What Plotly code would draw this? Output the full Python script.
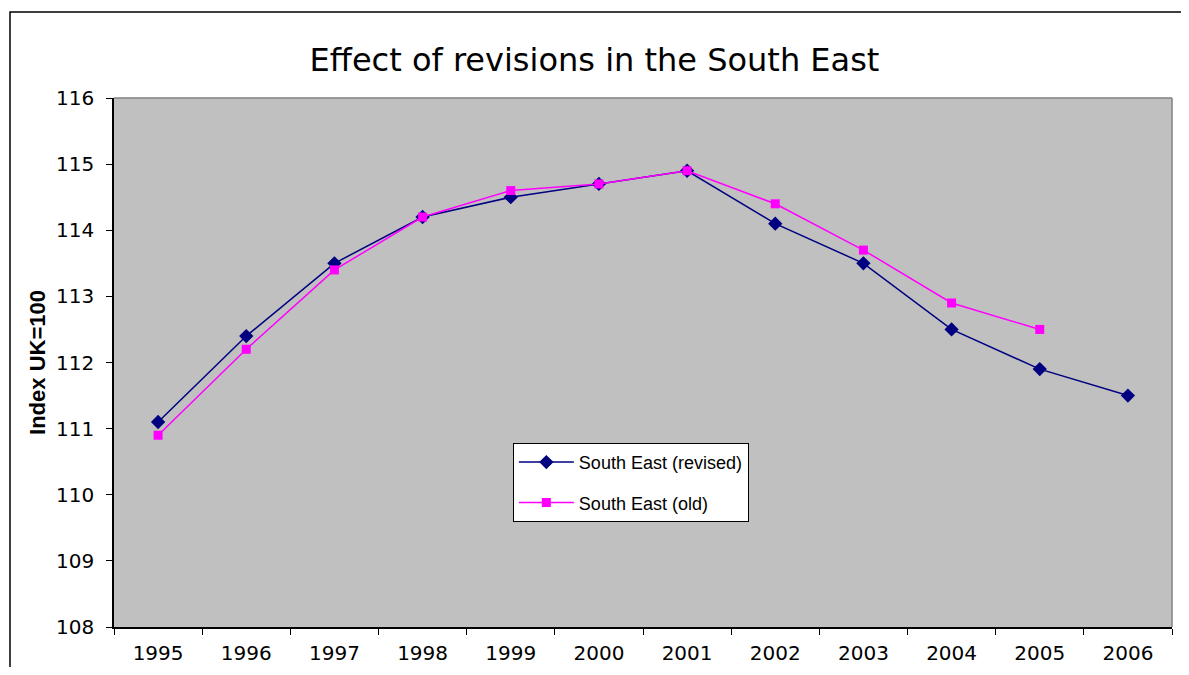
import plotly.graph_objects as go

years = ["1995", "1996", "1997", "1998", "1999", "2000", "2001", "2002", "2003", "2004", "2005", "2006"]
revised = [111.1, 112.4, 113.5, 114.2, 114.5, 114.7, 114.9, 114.1, 113.5, 112.5, 111.9, 111.5]
old_years = years[:11]
old = [110.9, 112.2, 113.4, 114.2, 114.6, 114.7, 114.9, 114.4, 113.7, 112.9, 112.5]

fig = go.Figure()
fig.add_trace(go.Scatter(
    x=years, y=revised, name="South East (revised)", mode="lines+markers",
    legendgroup="rev",
    line=dict(color="#000080", width=1.5),
    marker=dict(symbol="diamond", size=11, color="#000080"),
))
fig.add_trace(go.Scatter(
    x=old_years, y=old, name="South East (old)", mode="lines+markers",
    legendgroup="old",
    line=dict(color="#FF00FF", width=1.5),
    marker=dict(symbol="square", size=9, color="#FF00FF"),
))

fig.update_layout(
    width=1173, height=659,
    margin=dict(l=106, r=9, t=90, b=40),
    paper_bgcolor="white", plot_bgcolor="#C0C0C0",
    title=dict(text="Effect of revisions in the South East", x=0.5, xanchor="center",
               y=0.921, yanchor="middle",
               font=dict(family="DejaVu Sans", size=32, color="black")),
    showlegend=True,
    legend=dict(x=0.377, y=0.348, xanchor="left", yanchor="top",
                bgcolor="white", bordercolor="black", borderwidth=1,
                font=dict(family="Liberation Sans", size=18, color="black"),
                tracegroupgap=14, itemwidth=55),
    xaxis=dict(type="category", tickson="boundaries", ticks="outside", ticklen=6,
               tickcolor="black", showline=True, linecolor="black", linewidth=1.5,
               showgrid=False, mirror=False, ticklabelstandoff=7, automargin=False,
               tickfont=dict(family="DejaVu Sans", size=20, color="black"),
               range=[-0.5, 11.5]),
    yaxis=dict(range=[108, 116], dtick=1, ticks="outside", ticklen=6, tickcolor="black",
               showline=True, linecolor="black", linewidth=1.5, showgrid=False,
               zeroline=False, ticklabelstandoff=8,
               tickfont=dict(family="DejaVu Sans", size=20, color="black"),
               title=dict(text="<b>Index UK=100</b>", standoff=4,
                          font=dict(family="Liberation Sans", size=22, color="black"))),
)

# gray border on top and right of plot area
fig.add_shape(type="line", xref="paper", yref="paper", x0=0, x1=1, y0=1, y1=1,
              line=dict(color="#808080", width=1.5))
fig.add_shape(type="line", xref="paper", yref="paper", x0=1, x1=1, y0=0, y1=1,
              line=dict(color="#808080", width=1.5))
# outer chart frame
fig.add_shape(type="rect", xref="paper", yref="paper", x0=-0.0983, x1=1.2, y0=-0.2, y1=1.1626,
              line=dict(color="black", width=1.5), fillcolor="rgba(0,0,0,0)", layer="below")

fig.write_html("out.html")
